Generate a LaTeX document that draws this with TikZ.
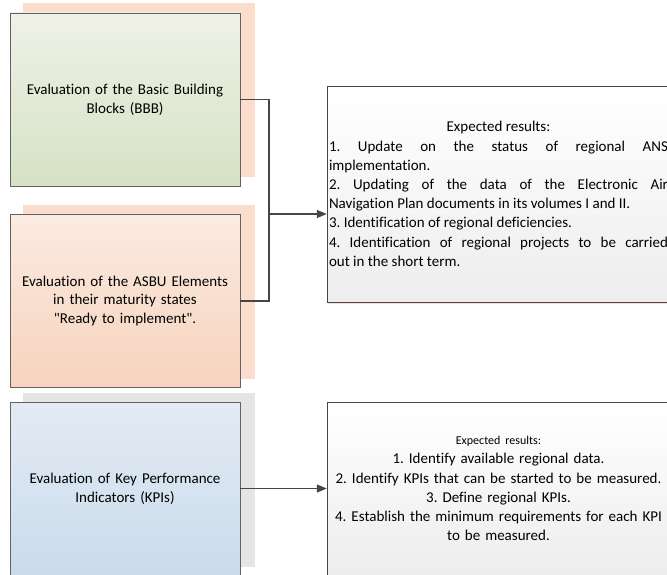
\documentclass[tikz,border=0pt]{standalone}
\usepackage{fontspec}
\setmainfont{Carlito}[Ligatures=NoCommon]
\usetikzlibrary{positioning, shadows, arrows.meta}
\setlength{\parindent}{0pt}
\frenchspacing

\definecolor{bbbtop}{RGB}{239,241,231}
\definecolor{bbbbot}{RGB}{213,226,196}
\definecolor{asbutop}{RGB}{251,235,225}
\definecolor{asbubot}{RGB}{246,211,189}
\definecolor{kpitop}{RGB}{227,235,244}
\definecolor{kpibot}{RGB}{202,219,236}
\definecolor{peachback}{RGB}{250,221,204}
\definecolor{grayback}{RGB}{229,229,229}
\definecolor{linegray}{RGB}{70,70,70}

\begin{document}
\begin{tikzpicture}[>={Triangle[length=10pt,width=8pt]}, x=1pt, y=-1pt,
  backbox/.style={minimum width=232pt, minimum height=174pt, inner sep=0pt},
  evalbox/.style={draw=linegray!85, minimum width=230pt, minimum height=173pt,
    text width=222pt, align=center, inner sep=0pt,
    font=\fontsize{15}{18.8}\selectfont},
  resbox/.style={draw=linegray, top color=white, bottom color=black!7,
    minimum width=343pt, text width=339pt, inner sep=2pt,
    drop shadow={shadow xshift=0.5pt, shadow yshift=-2pt, fill=peachback, opacity=1},
    font=\fontsize{15}{19.2}\selectfont},
  link/.style={draw=linegray, line width=1.1pt}]
  \useasboundingbox (0,0) rectangle (667,575);

  % stacked boxes behind
  \node[backbox, fill=peachback] (bbbback) at (139,90) {};
  \node[backbox, fill=peachback] (asbuback) at (139,292) {};
  \node[backbox, fill=grayback] (kpiback) at (139,480) {};

  % evaluation boxes
  \node[evalbox, top color=bbbtop, bottom color=bbbbot] (bbb) at (125,99.5)
    {Evaluation of the Basic Building\\ Blocks (BBB)};
  \node[evalbox, top color=asbutop, bottom color=asbubot] (asbu) at (125,301)
    {Evaluation of the ASBU Elements\\ in their maturity states\\ \textquotedbl Ready to implement\textquotedbl.};
  \node[evalbox, top color=kpitop, bottom color=kpibot] (kpi) at (125,488.5)
    {Evaluation of Key Performance\\ Indicators (KPIs)};

  % expected results
  \node[resbox, minimum height=216pt, align=justify] (res1) at (498.5,194)
    {{\centering Expected results:\par}
     1. Update on the status of regional ANS\linebreak implementation.\par
     2. Updating of the data of the Electronic Air\linebreak Navigation Plan documents in its volumes I and II.\par
     3. Identification of regional deficiencies.\par
     4. Identification of regional projects to be carried\linebreak out in the short term.};
  \node[resbox, minimum height=173pt, align=center] (res2) at (498.5,488.5)
    {{\fontsize{12}{14}\selectfont Expected results:}\\
     1. Identify available regional data.\\
     2. Identify KPIs that can be started to be measured.\\
     3. Define regional KPIs.\\
     4. Establish the minimum requirements for each KPI\\
     to be measured.};

  % connectors
  \coordinate (jn) at (269,214);
  \draw[link] (bbb.east) -| (jn) |- (asbu.east);
  \draw[link,->] (jn) -- (jn -| res1.west);
  \draw[link,->] (kpi.east) -- (kpi.east -| res2.west);
\end{tikzpicture}
\end{document}
